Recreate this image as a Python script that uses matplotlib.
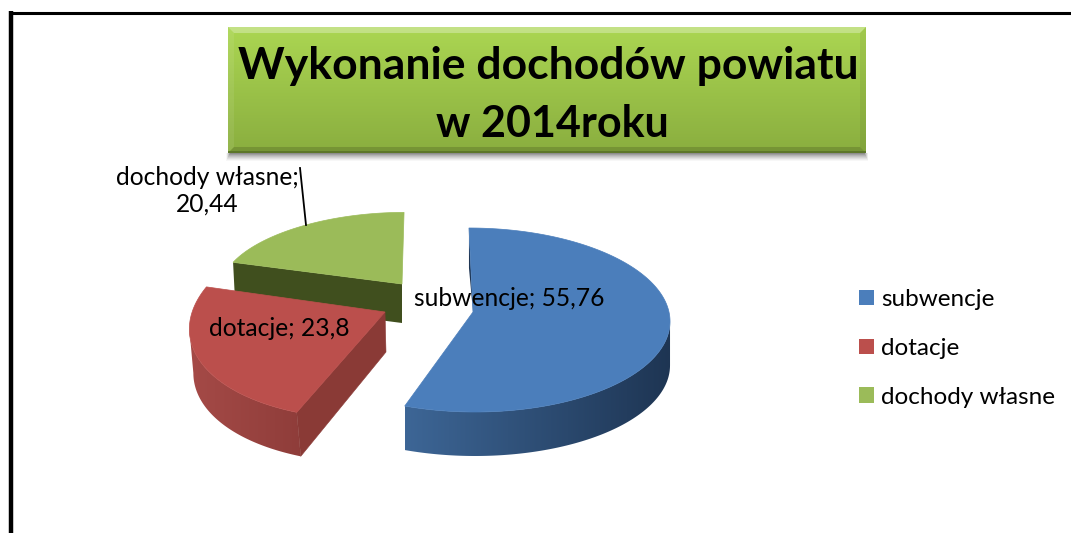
import numpy as np
import matplotlib
matplotlib.use("Agg")
import matplotlib.pyplot as plt
from matplotlib.patches import Polygon, Rectangle, Patch
from matplotlib.colors import to_rgb

# ---- data ----
categories = ["subwencje", "dotacje", "dochody własne"]
values = [55.76, 23.8, 20.44]
value_labels = ["55,76", "23,8", "20,44"]
title_lines = ["Wykonanie dochodów powiatu", "w 2014roku"]

# ---- style / layout (pixels of the 1071x533 canvas) ----
top_cols = ["#4b7ebb", "#bb4f4c", "#9bbb59"]
shade_cols = [("#3d6696", "#1e3553"), ("#a54a47", "#8f3d3a"), ("#404f1e", "#404f1e")]
edge_cols = ["#1e3553", "#8a3a36", "#404f1e"]
# cx, cy, rx, ry, shear, apex x, apex y, depth, wall bottom x shift
geom = [
    (472, 320, 198, 92, 0.033, 473, 312, 44, 0),
    (392, 316, 201, 103, -0.25, 385, 312, 44, 4),
    (387, 282, 165.5, 69.6, -0.245, 402, 284, 39, 2),
]
plt.rcParams["font.family"] = ["Lato", "DejaVu Sans"]

fig = plt.figure(figsize=(10.71, 5.33), dpi=100, facecolor="white")
ax = fig.add_axes([0, 0, 1, 1])
ax.set_xlim(0, 1071)
ax.set_ylim(533, 0)
ax.axis("off")

# frame
ax.plot([10.8, 10.8], [533, 11], color="black", lw=3.2, solid_capstyle="butt", zorder=1)
ax.plot([8.5, 1071], [12.5, 12.5], color="black", lw=2.2, solid_capstyle="butt", zorder=1)

# title box
bx0, bx1, by0, by1 = 228, 866, 27, 153
for i, a in enumerate([0.03, 0.04, 0.05, 0.06, 0.07, 0.08, 0.10, 0.12]):
    g = 8 - i
    ax.add_patch(Rectangle((bx0 + 2 - g * 0.5, by1), bx1 - bx0 - 4 + g * 1.0, g,
                           fc="black", ec="none", alpha=a, zorder=2))
grad = np.linspace(0, 1, 128)[:, None, None]
c0, c1 = np.array(to_rgb("#abd652")), np.array(to_rgb("#8aae3f"))
ax.imshow(c0 + (c1 - c0) * grad, extent=(bx0, bx1, by1, by0), aspect="auto",
          zorder=3, interpolation="bilinear")
bev = 6
ax.add_patch(Polygon([(bx0, by0), (bx1, by0), (bx1 - bev, by0 + bev), (bx0 + bev, by0 + bev)],
                     fc="white", ec="none", alpha=0.3, zorder=4))
ax.add_patch(Polygon([(bx0, by1), (bx1, by1), (bx1 - bev, by1 - bev), (bx0 + bev, by1 - bev)],
                     fc="black", ec="none", alpha=0.15, zorder=4))
ax.add_patch(Polygon([(bx0, by0), (bx0 + bev, by0 + bev), (bx0 + bev, by1 - bev), (bx0, by1)],
                     fc="white", ec="none", alpha=0.08, zorder=4))
ax.add_patch(Polygon([(bx1, by0), (bx1 - bev, by0 + bev), (bx1 - bev, by1 - bev), (bx1, by1)],
                     fc="black", ec="none", alpha=0.06, zorder=4))
ax.add_patch(Rectangle((bx0, by1 - 2), bx1 - bx0, 2, fc="#566f27", ec="none", alpha=0.8, zorder=4))
ax.text(548.5, 79, title_lines[0], ha="center", va="baseline", fontsize=32,
        fontweight="bold", color="black", zorder=5)
ax.text(552, 137, title_lines[1], ha="center", va="baseline", fontsize=31,
        fontweight="bold", color="black", zorder=5)


def rim(g, th):
    cx, cy, rx, ry, sh = g[:5]
    y = cy - ry * np.cos(th)
    x = cx + rx * np.sin(th) + sh * (y - cy)
    return x, y


# slice angles come from the values (clockwise from 12 o'clock)
edges = np.cumsum([0] + values) / np.sum(values) * 2 * np.pi
order = [2, 0, 1]
for idx in order:
    g = geom[idx]
    ax_, ay_, depth, dx = g[5], g[6], g[7], g[8]
    th = np.linspace(edges[idx], edges[idx + 1], 200)
    x, y = rim(g, th)
    zb = 10 + order.index(idx) * 3
    # front part of the outer wall, horizontally shaded, clipped to its outline
    if idx == 0:
        keep = np.arange(np.argmax(x), len(x))
    elif idx == 1:
        keep = np.arange(0, np.argmin(x) + 1)
    else:
        keep = None
    if keep is not None:
        wx, wy = x[keep], y[keep]
        wall = Polygon(np.column_stack([np.r_[wx, (wx + dx)[::-1]], np.r_[wy, (wy + depth)[::-1]]]),
                       fc="none", ec="none", zorder=zb)
        ax.add_patch(wall)
        ca, cb = np.array(to_rgb(shade_cols[idx][0])), np.array(to_rgb(shade_cols[idx][1]))
        ramp = np.linspace(0, 1, 128)[None, :, None]
        im = ax.imshow(ca + (cb - ca) * ramp,
                       extent=(wx.min(), wx.max() + dx, wy.max() + depth + 1, wy.min() - 1),
                       aspect="auto", zorder=zb, interpolation="bilinear")
        im.set_clip_path(wall)
    # radial wall facing the viewer
    x0, y0 = x[0], y[0]
    if idx == 1:
        ax.add_patch(Polygon([(ax_, ay_), (x0, y0), (x0 + dx, y0 + depth), (ax_ + 1, ay_ + 40)],
                             fc=edge_cols[idx], ec=edge_cols[idx], lw=0.4, zorder=zb + 1))
    if idx == 2:
        ax.add_patch(Polygon([(ax_, ay_), (x0, y0), (x0 + dx, y0 + depth), (ax_, ay_ + depth)],
                             fc=edge_cols[idx], ec="none", zorder=zb + 1))
    if idx == 0:
        ax.add_patch(Polygon([(x0, y0), (ax_, ay_), (x0, y0 + 40)],
                             fc=edge_cols[idx], ec="none", zorder=zb + 1))
    # top face
    ax.add_patch(Polygon(np.column_stack([np.r_[ax_, x], np.r_[ay_, y]]),
                         fc=top_cols[idx], ec=top_cols[idx], lw=0.5, zorder=zb + 2))

ax.set_xlim(0, 1071)
ax.set_ylim(533, 0)

# data labels
TXT = 17.7
ax.text(509, 298, f"{categories[0]}; {value_labels[0]}", ha="center", va="center",
        fontsize=TXT, color="black", zorder=30)
ax.text(279, 329, f"{categories[1]}; {value_labels[1]}", ha="center", va="center",
        fontsize=TXT, color="black", zorder=30)
ax.text(207, 190.5, f"{categories[2]};\n{value_labels[2]}", ha="center", va="center",
        fontsize=TXT, color="black", linespacing=1.2, zorder=30)
ax.plot([300, 306], [168, 225], color="black", lw=1.3, zorder=30)

# legend
handles = [Patch(fc=c, ec="none", label=n) for c, n in zip(top_cols, categories)]
ax.legend(handles=handles, loc="upper left", bbox_to_anchor=(849.5, 279.5),
          bbox_transform=ax.transData, frameon=False, fontsize=17.5,
          handlelength=0.61, handleheight=0.61, handletextpad=0.28,
          labelspacing=1.14, borderpad=0.4, borderaxespad=0)

fig.savefig("out.png", dpi=100, facecolor="white")
